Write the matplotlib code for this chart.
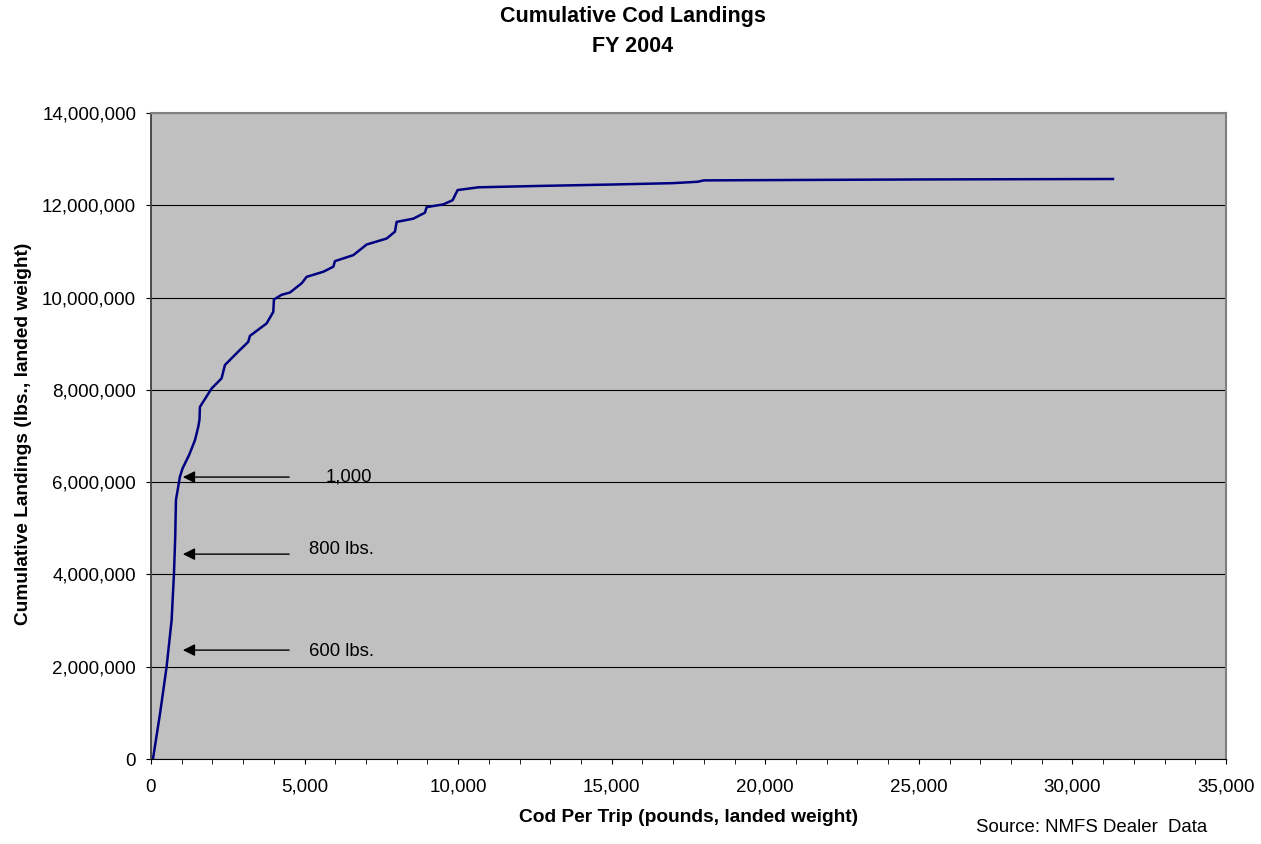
import matplotlib
matplotlib.use('Agg')
import matplotlib.pyplot as plt
from matplotlib.ticker import FuncFormatter, MultipleLocator

plt.rcParams['font.family'] = ['Liberation Sans', 'DejaVu Sans']

# Cod per trip (lbs) and cumulative landings (lbs)
cod_per_trip = [65, 300, 510, 673, 750, 790, 814, 944, 1031, 1250, 1433, 1541, 1580, 1595,
                1975, 2300, 2410, 2843, 3168, 3223, 3766, 3983, 4005, 4255, 4526, 4907,
                5070, 5613, 5939, 5991, 6589, 7023, 7674, 7945, 8000, 8541, 8921, 8976,
                9519, 9822, 9985, 10660, 12667, 15000, 17000, 17800, 18000, 25000, 31320]
cumulative = [0, 1.0e6, 2.0e6, 3.01e6, 4.02e6, 4.8e6, 5.61e6, 6.12e6, 6.30e6, 6.6e6, 6.91e6,
              7.2e6, 7.35e6, 7.63e6, 8.03e6, 8.25e6, 8.54e6, 8.83e6, 9.04e6, 9.17e6,
              9.44e6, 9.69e6, 9.96e6, 10.06e6, 10.11e6, 10.31e6, 10.45e6, 10.56e6,
              10.67e6, 10.79e6, 10.92e6, 11.15e6, 11.28e6, 11.43e6, 11.64e6, 11.71e6,
              11.84e6, 11.96e6, 12.02e6, 12.11e6, 12.33e6, 12.39e6, 12.42e6, 12.45e6,
              12.48e6, 12.51e6, 12.54e6, 12.56e6, 12.57e6]

# annotation arrows: label, arrow y value, text position
note_labels = ['1,000', '800 lbs.', '600 lbs.']
note_y = [6.11e6, 4.44e6, 2.36e6]
note_text_x = [5700, 5150, 5150]
note_text_y = [6.12e6, 4.53e6, 2.32e6]

fig = plt.figure(figsize=(12.61, 8.44), dpi=100)
ax = fig.add_axes([0.1197, 0.1007, 0.8525, 0.7654])
ax.set_facecolor('#C0C0C0')

ax.plot(cod_per_trip, cumulative, color='#000080', lw=1.8)

for lab, yv, tx, ty in zip(note_labels, note_y, note_text_x, note_text_y):
    ax.annotate('', xy=(1040, yv), xytext=(4500, yv),
                arrowprops=dict(arrowstyle='-|>', color='black', lw=1.0,
                                mutation_scale=18, shrinkA=0, shrinkB=0))
    ax.text(tx, ty, lab, fontsize=13.3, va='center', ha='left')

ax.set_xlim(0, 35000)
ax.set_ylim(0, 14000000)
ax.xaxis.set_major_locator(MultipleLocator(5000))
ax.xaxis.set_minor_locator(MultipleLocator(1000))
ax.yaxis.set_major_locator(MultipleLocator(2000000))
ax.xaxis.set_major_formatter(FuncFormatter(lambda v, p: f'{int(v):,}'))
ax.yaxis.set_major_formatter(FuncFormatter(lambda v, p: f'{int(v):,}'))
ax.yaxis.grid(True, color='black', lw=0.8)
ax.set_axisbelow(True)
ax.tick_params(axis='both', which='major', direction='out', length=3.6, labelsize=13.5, color='black')
ax.tick_params(axis='x', which='minor', direction='out', length=3.6, color='black')
ax.tick_params(axis='x', which='major', pad=10.5)
ax.tick_params(axis='y', which='major', pad=7)

for s in ['top', 'right']:
    ax.spines[s].set_color('#808080')
    ax.spines[s].set_linewidth(1.5)
ax.spines['left'].set_color('#404040')
ax.spines['left'].set_linewidth(1.3)
ax.spines['bottom'].set_color('black')

fig.text(688.5 / 1261, 1 - 818 / 844, 'Cod Per Trip (pounds, landed weight)',
         fontsize=13.8, fontweight='bold', ha='center', va='center')
fig.text(24 / 1261, 1 - 434 / 844, 'Cumulative Landings (lbs., landed weight)',
         fontsize=13.8, fontweight='bold', ha='center', va='center', rotation=90)

fig.text(633 / 1261, 1 - 22 / 844, 'Cumulative Cod Landings', ha='center', va='baseline',
         fontsize=15.5, fontweight='bold')
fig.text(633 / 1261, 1 - 52 / 844, 'FY 2004', ha='center', va='baseline',
         fontsize=15.5, fontweight='bold')
fig.text(976 / 1261, 1 - 828 / 844, 'Source: NMFS Dealer  Data', fontsize=13.4,
         ha='left', va='center')

fig.savefig('out.png', dpi=100)
